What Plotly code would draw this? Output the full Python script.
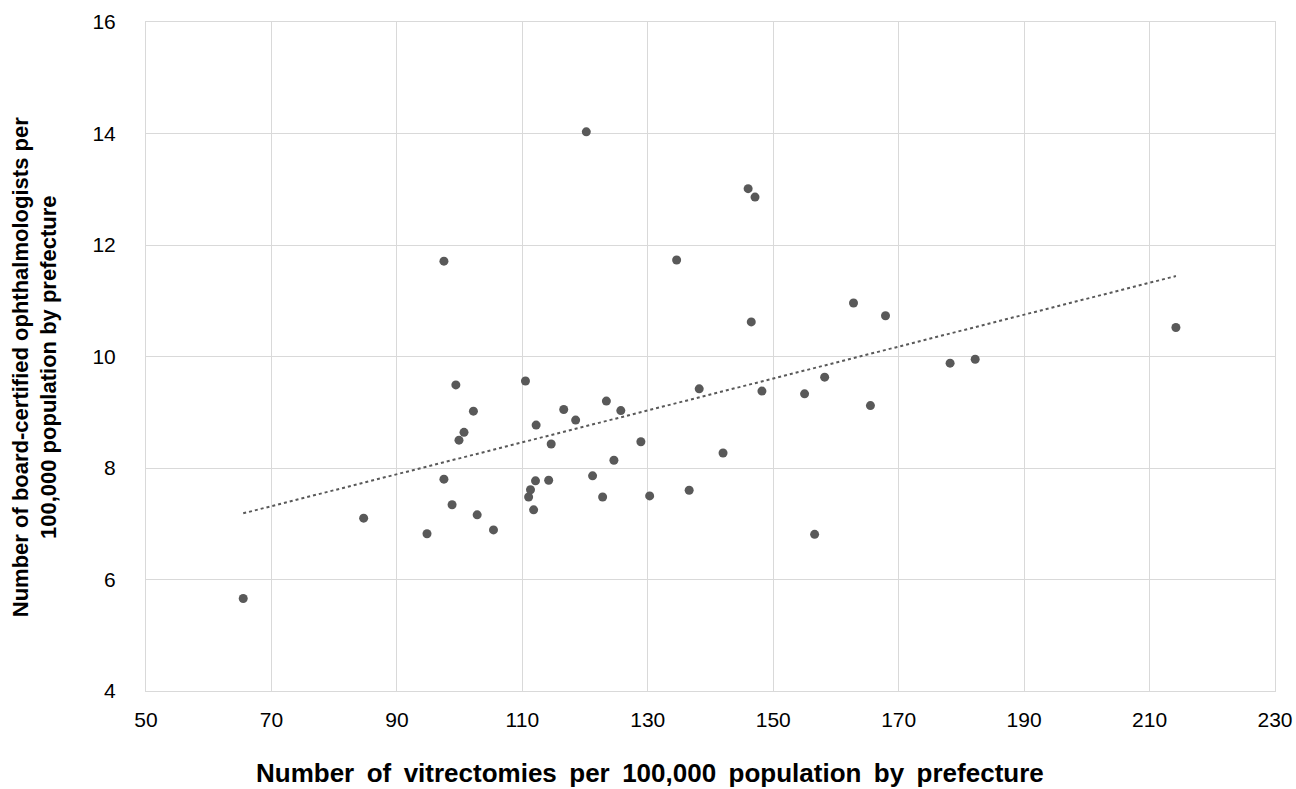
import numpy as np
import plotly.graph_objects as go

vitrectomies = [65.5, 84.7, 94.8, 97.5, 97.5, 98.8, 99.4, 99.9, 100.7, 102.2,
                102.8, 105.4, 110.5, 111.0, 111.3, 111.8, 112.1, 112.2, 114.2, 114.6,
                116.6, 118.5, 120.2, 121.2, 122.8, 123.4, 124.6, 125.7, 128.9, 130.3,
                134.6, 136.6, 138.2, 142.0, 146.0, 146.5, 147.1, 148.2, 155.0, 156.6,
                158.2, 162.8, 165.5, 167.9, 178.2, 182.2, 214.2]
ophthalmologists = [5.66, 7.10, 6.82, 7.80, 11.71, 7.34, 9.49, 8.50, 8.64, 9.02,
                    7.16, 6.89, 9.56, 7.48, 7.61, 7.25, 7.77, 8.77, 7.78, 8.43,
                    9.05, 8.86, 14.03, 7.86, 7.48, 9.20, 8.14, 9.03, 8.47, 7.50,
                    11.73, 7.60, 9.42, 8.27, 13.01, 10.62, 12.86, 9.38, 9.33, 6.81,
                    9.63, 10.96, 9.12, 10.73, 9.88, 9.95, 10.52]

x_title = "Number of vitrectomies per 100,000 population by prefecture"
y_title = "Number of board-certified ophthalmologists per<br>100,000 population by prefecture"

slope, intercept = np.polyfit(vitrectomies, ophthalmologists, 1)
trend_x = [min(vitrectomies), max(vitrectomies)]
trend_y = [slope * v + intercept for v in trend_x]

FONT = "Liberation Sans, Arial"

fig = go.Figure()
fig.add_trace(go.Scatter(x=trend_x, y=trend_y, mode="lines",
                         line=dict(color="#595959", width=2, dash="dot"),
                         hoverinfo="skip", showlegend=False))
fig.add_trace(go.Scatter(x=vitrectomies, y=ophthalmologists, mode="markers",
                         marker=dict(color="#595959", size=9, line=dict(width=0)),
                         showlegend=False))

axis_common = dict(showgrid=True, gridcolor="#d9d9d9", gridwidth=1,
                   showline=True, linecolor="#d9d9d9", linewidth=1, mirror=True,
                   zeroline=False, ticks="", automargin=False,
                   tickfont=dict(family=FONT, size=21, color="#000000"))

fig.update_xaxes(range=[50, 230], tick0=50, dtick=20, ticklabelstandoff=10, **axis_common)
fig.update_yaxes(range=[4, 16], tick0=4, dtick=2, ticklabelstandoff=25, **axis_common)

fig.update_layout(
    width=1296, height=789,
    margin=dict(l=146, r=21, t=22, b=98),
    plot_bgcolor="white", paper_bgcolor="white",
    font=dict(family=FONT, color="#000000"),
    annotations=[
        dict(text="<b>" + x_title.replace(" ", " \u2009") + "</b>", xref="paper", yref="paper", x=0.446, y=0,
             xanchor="center", yanchor="middle", yshift=-82, showarrow=False,
             font=dict(size=26, family=FONT, color="#000000")),
        dict(text="<b>" + y_title + "</b>", xref="paper", yref="paper", x=0, y=0.484,
             xanchor="center", yanchor="middle", xshift=-111, textangle=-90, showarrow=False,
             font=dict(size=22, family=FONT, color="#000000")),
    ],
)

fig.write_html("out.html")
